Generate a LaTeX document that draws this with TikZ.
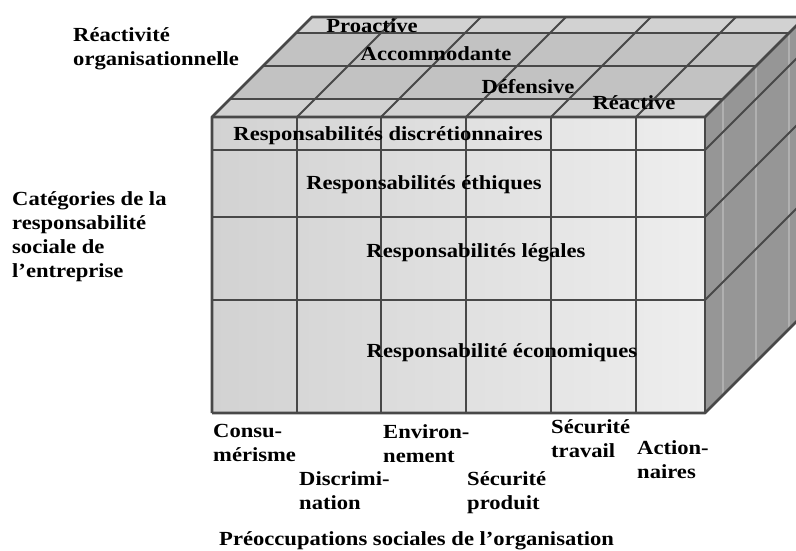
\documentclass[tikz,border=0pt]{standalone}
\usepackage{fontspec}
\setmainfont{Liberation Serif}[FakeStretch=1.13]
\usepackage{xcolor}
\definecolor{cLine}{RGB}{72,72,72}
\definecolor{cFrontA}{RGB}{210,210,210}
\definecolor{cFrontB}{RGB}{238,238,238}
\definecolor{cTop}{RGB}{194,194,194}
\definecolor{cStrip}{RGB}{210,210,210}
\definecolor{cSide}{RGB}{150,150,150}
\definecolor{cStripe}{RGB}{176,176,176}

\begin{document}
\begin{tikzpicture}[x=1pt, y=-1pt,
  lbl/.style={font=\bfseries\fontsize{20}{24}\selectfont, align=left, inner sep=0pt},
  edge/.style={cLine, line width=2.8pt, line join=round},
  grid/.style={cLine, line width=2pt}]
  \useasboundingbox (0,0) rectangle (796,551);

  % side face
  \fill[cSide] (705,117) -- (805,17) -- (805,313) -- (705,413) -- cycle;
  \draw[cStripe, line width=1.6pt] (723,99) -- (723,395);
  \draw[cStripe, line width=1.6pt] (756,66) -- (756,362);
  \draw[cStripe, line width=1.6pt] (789,33) -- (789,329);
  \draw[grid] (705,150) -- (805,50);
  \draw[grid] (705,217) -- (805,117);
  \draw[grid] (705,300) -- (805,200);

  % top face
  \fill[cTop] (212,117) -- (312,17) -- (805,17) -- (705,117) -- cycle;
  \fill[cStrip] (212,117) -- (230,99) -- (723,99) -- (705,117) -- cycle;
  \fill[cStrip] (296,33) -- (312,17) -- (805,17) -- (789,33) -- cycle;
  \draw[grid] (296,33) -- (789,33);
  \draw[grid] (263,66) -- (756,66);
  \draw[grid] (230,99) -- (723,99);
  \draw[grid] (297,117) -- (397,17);
  \draw[grid] (381,117) -- (481,17);
  \draw[grid] (466,117) -- (566,17);
  \draw[grid] (551,117) -- (651,17);
  \draw[grid] (636,117) -- (736,17);

  % front face
  \shade[left color=cFrontA, right color=cFrontB] (212,117) rectangle (705,413);
  \draw[grid] (297,117) -- (297,413);
  \draw[grid] (381,117) -- (381,413);
  \draw[grid] (466,117) -- (466,413);
  \draw[grid] (551,117) -- (551,413);
  \draw[grid] (636,117) -- (636,413);
  \draw[grid] (212,150) -- (705,150);
  \draw[grid] (212,217) -- (705,217);
  \draw[grid] (212,300) -- (705,300);

  % outline of the cube
  \draw[edge] (212,413) -- (212,117) -- (312,17) -- (805,17);
  \draw[edge] (212,117) -- (705,117) -- (805,17);
  \draw[edge] (212,413) -- (705,413) -- (805,313);
  \draw[edge] (705,117) -- (705,413);

  % axis titles
  \node[lbl, anchor=north west] (react) at (73,27) {Réactivité\\organisationnelle};
  \node[lbl, anchor=north west] (categ) at (12,191) {Catégories de la\\responsabilité\\sociale de\\l'entreprise};
  \node[lbl, anchor=north west] (preocc) at (219,531) {Préoccupations sociales de l'organisation};

  % levels on the top
  \node[lbl] (proact) at (372,26) {Proactive};
  \node[lbl] (accom) at (436,54) {Accommodante};
  \node[lbl] (defens) at (528,87) {Défensive};
  \node[lbl] (reactv) at (634,103) {Réactive};

  % categories on the front
  \node[lbl] (rdiscr) at (388,136) {Responsabilités discrétionnaires};
  \node[lbl] (rethiq) at (424,185) {Responsabilités éthiques};
  \node[lbl] (rlegal) at (476,253) {Responsabilités légales};
  \node[lbl] (recono) at (502,353) {Responsabilité économiques};

  % concerns under the front
  \node[lbl, anchor=north west] (consu) at (213,424) {Consu-\\mérisme};
  \node[lbl, anchor=north west] (discr) at (299,471) {Discrimi-\\nation};
  \node[lbl, anchor=north west] (envir) at (383,424) {Environ-\\nement};
  \node[lbl, anchor=north west] (secprod) at (467,471) {Sécurité\\produit};
  \node[lbl, anchor=north west] (sectrav) at (551,419) {Sécurité\\travail};
  \node[lbl, anchor=north west] (action) at (637,440) {Action-\\naires};
\end{tikzpicture}
\end{document}
